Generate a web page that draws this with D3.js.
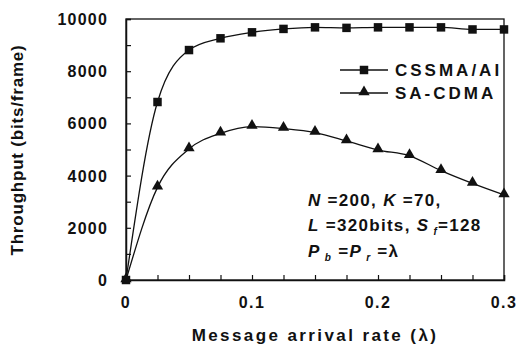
<!DOCTYPE html>
<html><head><meta charset="utf-8">
<script src="https://cdn.jsdelivr.net/npm/d3@7"></script>
<style>body{margin:0;background:#fff}svg{display:block}text{font-family:"Liberation Sans",Arial,sans-serif;fill:#111}</style>
</head><body>
<svg id="c" width="520" height="351"></svg>
<script>
const xs = [0,0.025,0.05,0.075,0.1,0.125,0.15,0.175,0.2,0.225,0.25,0.275,0.3];
const cssma = [0,6820,8810,9260,9490,9620,9680,9660,9680,9680,9680,9600,9600];
const sacdma = [0,3550,5020,5620,5880,5800,5650,5330,4980,4760,4190,3700,3260];
const xTicks = [0,0.1,0.2,0.3];
const yTicks = [0,2000,4000,6000,8000,10000];
const seriesNames = ["CSSMA/AI","SA-CDMA"];

const svg = d3.select("#c");
const x = d3.scaleLinear().domain([0,0.3]).range([126,504]);
const y = d3.scaleLinear().domain([0,10000]).range([280,19]);
const k = "#111";

// frame
svg.append("rect").attr("x",126).attr("y",19).attr("width",378).attr("height",261)
  .attr("fill","none").attr("stroke",k).attr("stroke-width",1.3);

// x axis ticks inward
const xa = svg.append("g").attr("transform","translate(0,280)")
  .call(d3.axisBottom(x).tickValues(d3.range(0,0.3001,0.025)).tickSize(-5).tickFormat(""));
xa.select(".domain").attr("stroke",k).attr("stroke-width",1.5);
xa.selectAll("line").attr("stroke",k).attr("stroke-width",1.2);
svg.selectAll(".xlab").data(xTicks).enter().append("text")
  .attr("x",d=>x(d)).attr("y",308).attr("text-anchor","middle")
  .attr("font-size",16).attr("font-weight","bold").attr("letter-spacing",1.5)
  .text(d=>d===0?"0":d.toFixed(1));

const ya = svg.append("g").attr("transform","translate(126,0)")
  .call(d3.axisLeft(y).tickValues(d3.range(0,10001,1000)).tickSize(-5).tickFormat(""));
ya.select(".domain").attr("stroke",k).attr("stroke-width",1.5);
ya.selectAll("line").attr("stroke",k).attr("stroke-width",1.2);
svg.selectAll(".ylab").data(yTicks).enter().append("text")
  .attr("x",108).attr("y",d=>y(d)+6).attr("text-anchor","end")
  .attr("font-size",16).attr("font-weight","bold").attr("letter-spacing",1.2)
  .text(d=>d);

// titles
svg.append("text").attr("x",315).attr("y",341).attr("text-anchor","middle")
  .attr("font-size",17).attr("font-weight","bold").attr("letter-spacing",2.4)
  .text("Message arrival rate (λ)");
svg.append("text").attr("transform","translate(23,150) rotate(-90)").attr("text-anchor","middle")
  .attr("font-size",17).attr("font-weight","bold").attr("letter-spacing",0.8)
  .text("Throughput (bits/frame)");

const line = d3.line().x((d,i)=>x(xs[i])).y(d=>y(d)).curve(d3.curveMonotoneX);
svg.append("path").attr("d",line(cssma)).attr("fill","none").attr("stroke",k).attr("stroke-width",1.3);
svg.append("path").attr("d",line(sacdma)).attr("fill","none").attr("stroke",k).attr("stroke-width",1.3);

const sq = d3.symbol().type(d3.symbolSquare).size(72);
const tri = d3.symbol().type(d3.symbolTriangle).size(55);
svg.selectAll(".sq").data(cssma).enter().append("path")
  .attr("transform",(d,i)=>`translate(${x(xs[i])},${y(d)})`).attr("d",sq).attr("fill",k);
svg.selectAll(".tr").data(sacdma).enter().append("path")
  .attr("transform",(d,i)=>`translate(${x(xs[i])},${y(d)-1})`).attr("d",tri).attr("fill",k);

// legend
const legY = [70,93];
const shapes = [sq,tri];
seriesNames.forEach((n,i)=>{
  svg.append("line").attr("x1",340).attr("x2",388).attr("y1",legY[i]).attr("y2",legY[i]).attr("stroke",k).attr("stroke-width",1.3);
  svg.append("path").attr("transform",`translate(364,${legY[i]-(i?1:0)})`).attr("d",shapes[i]).attr("fill",k);
  svg.append("text").attr("x",395).attr("y",legY[i]+6).attr("font-size",17).attr("font-weight","bold")
    .attr("letter-spacing",3).text(n);
});

// annotation
const ann = svg.append("g").attr("font-size",17).attr("font-weight","bold").attr("letter-spacing",1.3);
const t1 = ann.append("text").attr("x",308).attr("y",206);
t1.append("tspan").attr("font-style","italic").text("N");
t1.append("tspan").text(" =200, ");
t1.append("tspan").attr("font-style","italic").text("K");
t1.append("tspan").text(" =70,");
const t2 = ann.append("text").attr("x",308).attr("y",231);
t2.append("tspan").attr("font-style","italic").text("L");
t2.append("tspan").text(" =320bits, ");
t2.append("tspan").attr("font-style","italic").text("S");
t2.append("tspan").attr("font-style","italic").attr("font-size",10).attr("dy",4).text(" f");
t2.append("tspan").attr("dy",-4).text("=128");
const t3 = ann.append("text").attr("x",308).attr("y",257);
t3.append("tspan").attr("font-style","italic").text("P");
t3.append("tspan").attr("font-style","italic").attr("font-size",10).attr("dy",4).text(" b");
t3.append("tspan").attr("dy",-4).text(" =");
t3.append("tspan").attr("font-style","italic").text("P");
t3.append("tspan").attr("font-style","italic").attr("font-size",10).attr("dy",4).text(" r");
t3.append("tspan").attr("dy",-4).text(" =λ");
</script>
</body></html>
